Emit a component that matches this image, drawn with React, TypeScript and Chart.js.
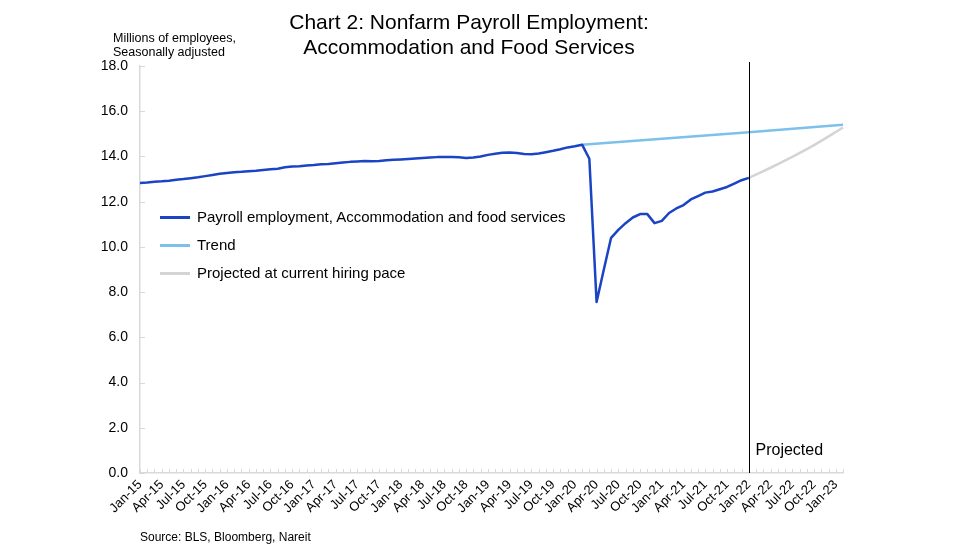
import React, { useEffect, useRef } from "react";
import { Chart, registerables } from "chart.js";

Chart.register(...registerables);

const MONTHS = ["Jan", "Feb", "Mar", "Apr", "May", "Jun", "Jul", "Aug", "Sep", "Oct", "Nov", "Dec"];
const YEARS = ["15", "16", "17", "18", "19", "20", "21", "22", "23"];
const categories: string[] = YEARS.flatMap((y) => MONTHS.map((m) => `${m}-${y}`)).slice(0, 98);

// Payroll employment, Jan-15 .. Jan-22 (millions)
const payroll: number[] = [
  12.83, 12.85, 12.88, 12.9, 12.93, 12.97, 13.0, 13.04, 13.08, 13.13, 13.18, 13.23,
  13.27, 13.3, 13.32, 13.35, 13.37, 13.4, 13.43, 13.46, 13.52, 13.55, 13.57, 13.6,
  13.62, 13.65, 13.67, 13.7, 13.73, 13.76, 13.78, 13.8, 13.79, 13.8, 13.83, 13.85,
  13.87, 13.89, 13.91, 13.93, 13.95, 13.97, 13.98, 13.98, 13.96, 13.93, 13.95, 14.0,
  14.07, 14.12, 14.16, 14.17, 14.15, 14.11, 14.1, 14.13, 14.19, 14.25, 14.32, 14.4,
  14.45, 14.52, 13.9, 7.56, 9.0, 10.4, 10.75, 11.05, 11.3, 11.45, 11.45, 11.05,
  11.15, 11.5, 11.7, 11.85, 12.1, 12.25, 12.4, 12.45, 12.55, 12.65, 12.8, 12.95,
  13.05,
];

// Trend anchors (category label -> value), straight line between them
const trendPoints: [string, number][] = [
  ["Feb-20", 14.52],
  ["Jan-22", 15.07],
  ["Feb-23", 15.4],
];

// Projected at current hiring pace
const projectedPoints: [string, number][] = [
  ["Jan-22", 13.05],
  ["Apr-22", 13.5],
  ["Jul-22", 13.98],
  ["Oct-22", 14.5],
  ["Jan-23", 15.08],
  ["Feb-23", 15.28],
];

const PROJECTION_START = "Jan-22";
const yTicks = [0, 2, 4, 6, 8, 10, 12, 14, 16, 18];

const FONT = "Arial, 'Liberation Sans', sans-serif";
const BLUE = "#1a44c4";
const LIGHT_BLUE = "#7cc1ea";
const GREY = "#d4d4d4";

function toSeries(points: [string, number][]): (number | null)[] {
  const arr: (number | null)[] = categories.map(() => null);
  points.forEach(([label, v]) => {
    arr[categories.indexOf(label)] = v;
  });
  return arr;
}

const overlayPlugin = {
  id: "overlay",
  afterDraw(chart: any) {
    const { ctx, chartArea, scales } = chart;
    const xs = scales.x;
    const ys = scales.y;
    ctx.save();
    ctx.strokeStyle = "#d9d9d9";
    ctx.lineWidth = 1;
    for (let i = 0; i < categories.length; i++) {
      const px = Math.round(xs.getPixelForValue(i)) + 0.5;
      ctx.beginPath();
      ctx.moveTo(px, chartArea.bottom);
      ctx.lineTo(px, chartArea.bottom - 4);
      ctx.stroke();
    }
    yTicks.forEach((v) => {
      const py = Math.round(ys.getPixelForValue(v)) + 0.5;
      ctx.beginPath();
      ctx.moveTo(chartArea.left, py);
      ctx.lineTo(chartArea.left + 5, py);
      ctx.stroke();
    });
    const vx = Math.round(xs.getPixelForValue(categories.indexOf(PROJECTION_START))) + 0.5;
    ctx.strokeStyle = "#000";
    ctx.lineWidth = 1;
    ctx.beginPath();
    ctx.moveTo(vx, chartArea.top - 4);
    ctx.lineTo(vx, chartArea.bottom);
    ctx.stroke();
    ctx.fillStyle = "#000";
    ctx.font = `16px ${FONT}`;
    ctx.textBaseline = "middle";
    ctx.textAlign = "left";
    ctx.fillText("Projected", vx + 6, chartArea.bottom - 22);
    ctx.restore();
  },
};

const legendItems = [
  { label: "Payroll employment, Accommodation and food services", color: BLUE, top: 217 },
  { label: "Trend", color: LIGHT_BLUE, top: 245 },
  { label: "Projected at current hiring pace", color: GREY, top: 273 },
];

export default function App() {
  const canvasRef = useRef<HTMLCanvasElement | null>(null);

  useEffect(() => {
    if (!canvasRef.current) return;
    const chart = new Chart(canvasRef.current, {
      type: "line",
      data: {
        labels: categories,
        datasets: [
          {
            label: "Payroll employment, Accommodation and food services",
            data: payroll,
            borderColor: BLUE,
            borderWidth: 2.5,
            borderJoinStyle: "round",
            pointRadius: 0,
            tension: 0,
          },
          {
            label: "Trend",
            data: toSeries(trendPoints),
            borderColor: LIGHT_BLUE,
            borderWidth: 2.5,
            pointRadius: 0,
            spanGaps: true,
            tension: 0,
          },
          {
            label: "Projected at current hiring pace",
            data: toSeries(projectedPoints),
            borderColor: GREY,
            borderWidth: 2.5,
            pointRadius: 0,
            spanGaps: true,
            tension: 0.2,
          },
        ],
      },
      options: {
        animation: false,
        responsive: false,
        layout: { padding: { top: 66, right: 137, left: 0, bottom: 0 } },
        plugins: {
          legend: { display: false },
          tooltip: { enabled: false },
          title: { display: false },
        },
        scales: {
          x: {
            type: "category",
            offset: false,
            grid: { drawOnChartArea: false, drawTicks: false },
            border: { color: "#d9d9d9", width: 1.5 },
            ticks: {
              autoSkip: false,
              maxRotation: 45,
              minRotation: 45,
              padding: 4,
              color: "#000",
              font: { family: FONT, size: 13 },
              callback: (_v: any, i: number) => (i % 3 === 0 ? categories[i] : ""),
            },
            afterFit: (scale: any) => {
              scale.height = 78;
            },
          },
          y: {
            min: 0,
            max: 18,
            grid: { drawOnChartArea: false, drawTicks: false },
            border: { color: "#d9d9d9", width: 1.5 },
            afterBuildTicks: (scale: any) => {
              scale.ticks = yTicks.map((v) => ({ value: v }));
            },
            ticks: {
              padding: 12,
              color: "#000",
              font: { family: FONT, size: 14 },
              callback: (v: any) => Number(v).toFixed(1),
            },
            afterFit: (scale: any) => {
              scale.width = 140;
            },
          },
        },
      },
      plugins: [overlayPlugin],
    });
    return () => chart.destroy();
  }, []);

  return (
    <div
      style={{
        position: "absolute",
        left: 0,
        top: 0,
        width: 980,
        height: 551,
        background: "#fff",
        fontFamily: FONT,
        color: "#000",
        overflow: "hidden",
      }}
    >
      <canvas ref={canvasRef} width={980} height={551} style={{ position: "absolute", left: 0, top: 0 }} />
      <div
        style={{
          position: "absolute",
          left: 269,
          width: 400,
          top: 9,
          textAlign: "center",
          fontSize: 21,
          lineHeight: "25px",
        }}
      >
        Chart 2: Nonfarm Payroll Employment:
        <br />
        Accommodation and Food Services
      </div>
      <div style={{ position: "absolute", left: 113, top: 31, fontSize: 12.5, lineHeight: "14px" }}>
        Millions of employees,
        <br />
        Seasonally adjusted
      </div>
      {legendItems.map((it) => (
        <div key={it.label} style={{ position: "absolute", left: 160, top: it.top - 10, height: 20 }}>
          <div
            style={{
              position: "absolute",
              left: 0,
              top: 9,
              width: 30,
              height: 3,
              background: it.color,
            }}
          />
          <div
            style={{
              position: "absolute",
              left: 37,
              top: 0,
              whiteSpace: "nowrap",
              fontSize: 15,
              lineHeight: "20px",
            }}
          >
            {it.label}
          </div>
        </div>
      ))}
      <div style={{ position: "absolute", left: 140, top: 529, fontSize: 12, lineHeight: "16px" }}>
        Source: BLS, Bloomberg, Nareit
      </div>
    </div>
  );
}
